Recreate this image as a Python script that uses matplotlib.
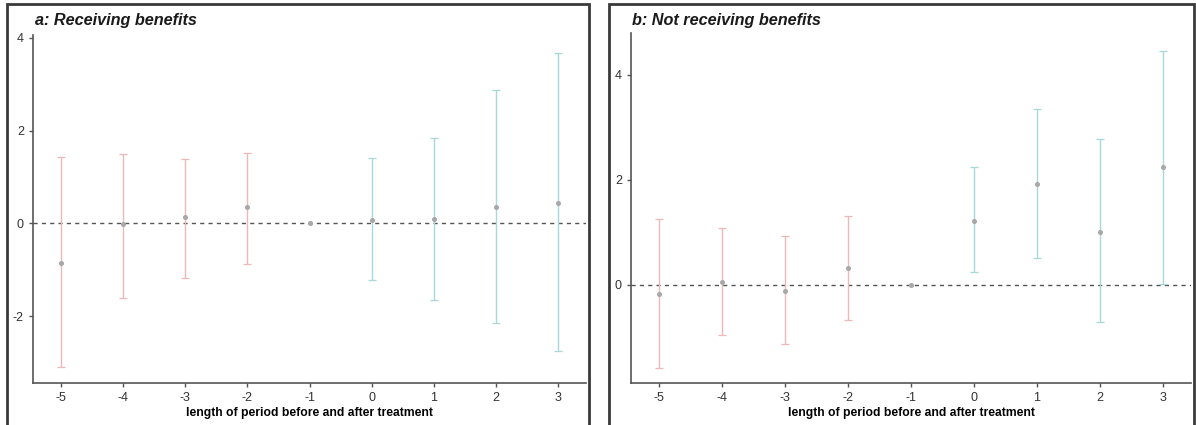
import numpy as np
import matplotlib.pyplot as plt
from matplotlib.patches import Rectangle

plt.rcParams['font.family'] = ['Liberation Sans', 'DejaVu Sans']
plt.rcParams['axes.unicode_minus'] = False

periods = [-5, -4, -3, -2, -1, 0, 1, 2, 3]

# panel a: receiving benefits
est_a = [-0.85, -0.02, 0.13, 0.35, 0.0, 0.08, 0.10, 0.35, 0.45]
lo_a = [-3.10, -1.60, -1.18, -0.88, 0.0, -1.22, -1.65, -2.15, -2.75]
hi_a = [1.42, 1.50, 1.39, 1.52, 0.0, 1.41, 1.85, 2.87, 3.67]

# panel b: not receiving benefits
est_b = [-0.17, 0.05, -0.11, 0.32, 0.0, 1.22, 1.92, 1.01, 2.24]
lo_b = [-1.58, -0.95, -1.13, -0.67, 0.0, 0.25, 0.51, -0.70, 0.02]
hi_b = [1.25, 1.08, 0.93, 1.32, 0.0, 2.25, 3.35, 2.78, 4.46]

PRE = '#efb8b8'
POST = '#a8d9d9'

W, H = 1196, 425
fig = plt.figure(figsize=(W / 100, H / 100), dpi=100)

# outer frames around each panel
for x0, x1 in [(7, 589), (609, 1194)]:
    fig.patches.append(Rectangle((x0 / W, -0.05), (x1 - x0) / W, 1.05 - 4 / H,
                                 transform=fig.transFigure, fill=False,
                                 edgecolor='#3a3a3a', linewidth=2))

panels = [
    ([33 / W, 1 - 383 / H, 553 / W, 348 / H], est_a, lo_a, hi_a,
     (-3.44, 4.06), [-2, 0, 2, 4], 'a: Receiving benefits', 35),
    ([631 / W, 1 - 383 / H, 560 / W, 350 / H], est_b, lo_b, hi_b,
     (-1.87, 4.8), [0, 2, 4], 'b: Not receiving benefits', 632),
]

for rect, est, lo, hi, ylim, yticks, title, tx in panels:
    ax = fig.add_axes(rect)
    for x, e, l, h in zip(periods, est, lo, hi):
        c = PRE if x < 0 else POST
        if h > l:
            ax.errorbar(x, e, yerr=[[e - l], [h - e]], fmt='none', ecolor=c,
                        elinewidth=1.0, capsize=3, capthick=0.9)
        ax.plot(x, e, 'o', ms=2.6, color='#a8a8a8', zorder=3)
    ax.axhline(0, color='#555555', lw=1, ls=(0, (3, 3)), zorder=1)
    ax.set_xlim(-5.45, 3.45)
    ax.set_ylim(*ylim)
    ax.set_xticks(periods)
    ax.set_yticks(yticks)
    for s in ['top', 'right']:
        ax.spines[s].set_visible(False)
    for s in ['left', 'bottom']:
        ax.spines[s].set_color('#555555')
        ax.spines[s].set_linewidth(1.2)
    ax.tick_params(colors='#555555', labelcolor='#333333', labelsize=9,
                   length=3, width=1)
    ax.set_xlabel('length of period before and after treatment',
                  fontsize=8.7, fontweight='bold', labelpad=2)
    fig.text(tx / W, 1 - 20 / H, title, fontsize=11.7, fontweight='bold',
             fontstyle='italic', va='center', ha='left', color='#1a1a1a')

fig.savefig('out.png', dpi=100)
